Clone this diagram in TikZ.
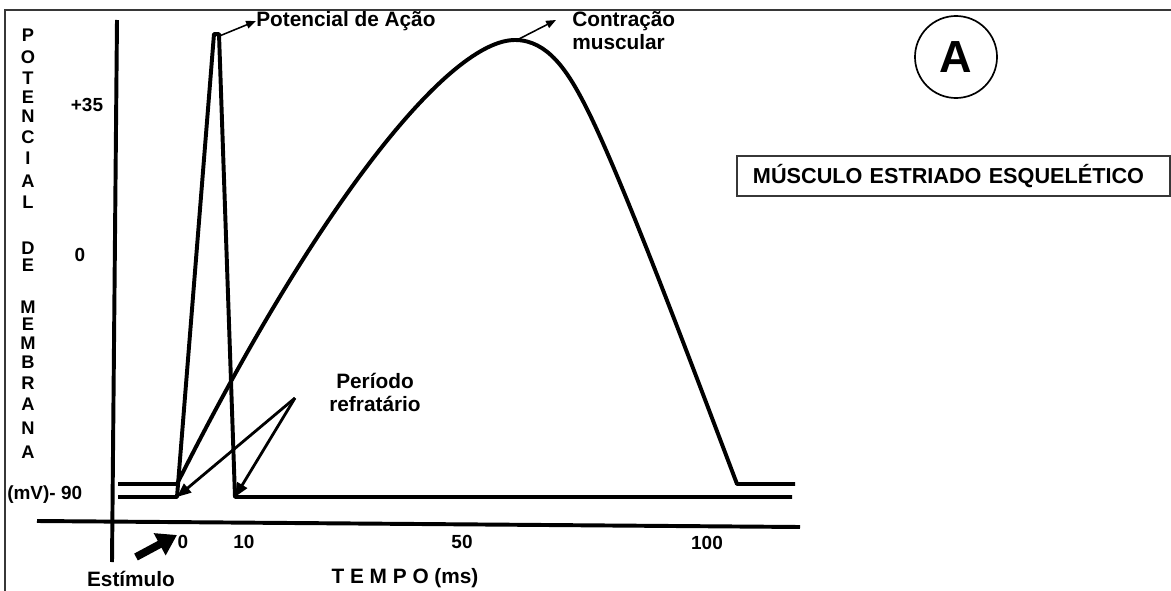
\documentclass[tikz,border=0pt]{standalone}
\usepackage{fontspec}
\setmainfont{Liberation Sans}
\usetikzlibrary{arrows.meta}
\definecolor{traco}{RGB}{0,0,0}
\definecolor{moldura}{RGB}{55,55,55}

\begin{document}
\begin{tikzpicture}[x=0.025cm, y=-0.025cm,
    curva/.style={traco, line width=2.8pt, line join=round},
    seta/.style={traco, line width=1.1pt, -{Triangle[length=7pt,width=5.5pt]}},
    setaref/.style={traco, line width=2pt, -{Triangle[length=10pt,width=8pt]}},
    rotulo/.style={font=\fontsize{14.8}{16.4}\selectfont\bfseries, inner sep=0pt},
    numero/.style={font=\fontsize{13.5}{14}\selectfont\bfseries, inner sep=0pt},
    letra/.style={font=\fontsize{13}{13}\selectfont\bfseries, inner sep=0pt},
    caixa/.style={draw=moldura, line width=1.4pt, minimum height=1cm, inner xsep=0.4cm,
      text width=10.025cm, align=left, font=\fontsize{15.4}{16}\selectfont\bfseries}]
    \useasboundingbox (0,0) rectangle (1171,591);

    % Moldura
    \draw[line width=2pt, moldura] (5,591) -- (5,10) -- (1171,10);

    % Eixos
    \coordinate (ytopo) at (117,20);
    \coordinate (ybase) at (112,562);
    \coordinate (xini) at (37,521);
    \coordinate (xfim) at (800,527);
    \draw[curva] (ytopo) -- (ybase);
    \draw[curva] (xini) -- (xfim);

    % Potencial de acao
    \coordinate (apini) at (177,497);
    \coordinate (aptopo) at (217,37);
    \coordinate (apfim) at (235,497);
    \draw[curva] (118,497) -- (apini) -- (214,34) -- (219,34) -- (apfim) -- (792,497);

    % Contracao muscular
    \coordinate (cini) at (177,484);
    \coordinate (cpico) at (515,40);
    \coordinate (cfim) at (737,484);
    \draw[curva] (118,484) -- (cini) .. controls (320,200) and (450,40) .. (cpico)
      .. controls (548,40) and (568,72) .. (585,105)
      .. controls (620,173) and (690,360) .. (cfim) -- (795,484);

    % Eixo vertical: rotulo
    \foreach \letra/\py [count=\i] in {P/35, O/57, T/78, E/97, N/116, C/137, I/158, A/181, L/202,
        D/248, E/265, M/307, E/324, M/343, B/362, R/383, A/404, N/428, A/452}
      \node[letra] (vl\i) at (28,\py) {\letra};

    % Valores
    \node[numero] (mais35) at (87,105) {+35};
    \node[numero] (zero) at (80,255) {0};
    \node[numero, anchor=west] (menos90) at (7,495) {(mV)- 90};
    \node[numero] (t0) at (183,542) {0};
    \node[numero] (t10) at (244,542) {10};
    \node[numero] (t50) at (462,542) {50};
    \node[numero] (t100) at (707,543) {100};
    \node[rotulo] (estimulo) at (131,579) {Estímulo};
    \node[rotulo] (tempo) at (405,578) {T E M P O (ms)};

    % Estimulo
    \coordinate (estbase) at (136,557);
    \coordinate (estponta) at (177,535);
    \draw[traco, line width=5.5pt, -{Triangle[length=14pt,width=17pt]}] (estbase) -- (estponta);

    % Legendas
    \node[rotulo, anchor=west] (potacao) at (256,21) {Potencial de Ação};
    \draw[seta] (aptopo) -- (potacao.west);

    \node[rotulo, anchor=north west, align=left] (contracao) at (572,11) {Contração\\muscular};
    \coordinate (contrponta) at (556,20);
    \draw[seta] (517,40) -- (contrponta);

    \node[rotulo, align=center] (refrat) at (375,392) {Período\\refratário};
    \coordinate (refvertice) at (295,398);
    \draw[setaref] (refvertice) -- (apini);
    \draw[setaref] (refvertice) -- (apfim);

    % Identificacao
    \node[circle, draw=traco, line width=1.2pt, minimum size=2.05cm, inner sep=0pt,
      font=\fontsize{32}{32}\selectfont\bfseries] (letraA) at (956,57) {A};
    \node[caixa, anchor=west] (musculo) at (736,176) {MÚSCULO ESTRIADO ESQUELÉTICO};
\end{tikzpicture}
\end{document}
